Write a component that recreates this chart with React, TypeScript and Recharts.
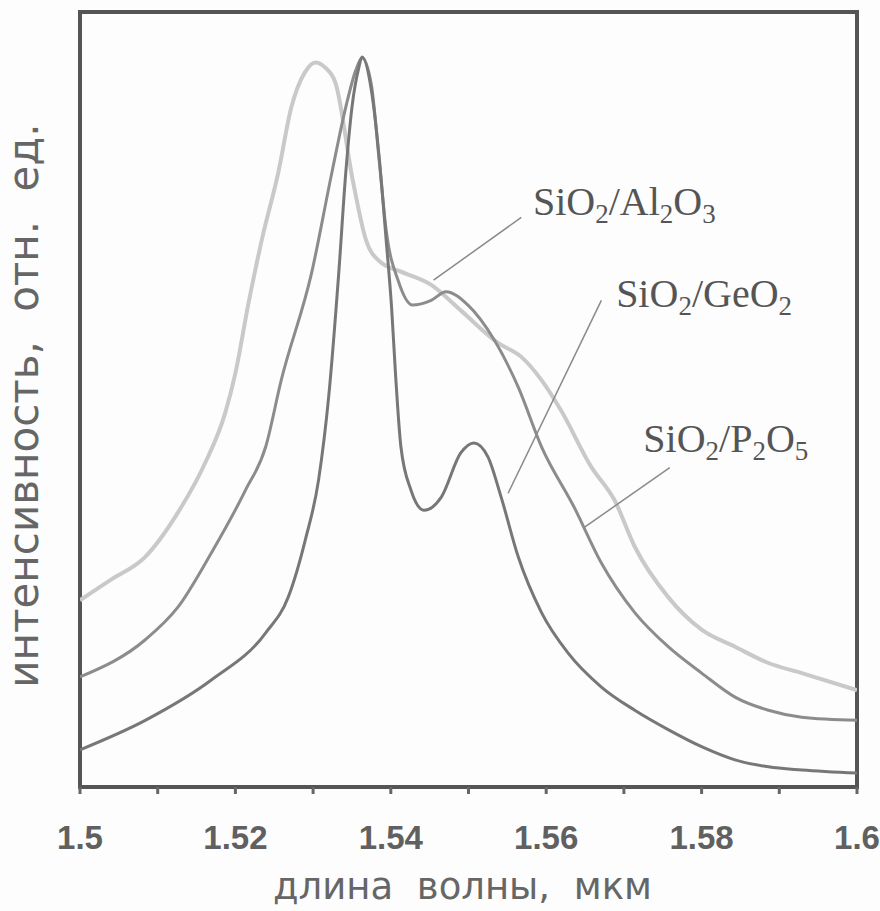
import React from 'react'
import {
  LineChart,
  Line,
  XAxis,
  YAxis,
  ReferenceArea,
  ReferenceLine,
  ReferenceDot,
  Label,
} from 'recharts'

// SiO2/Al2O3 — светлая, широкая
const al2o3Wl = [
  1.5, 1.5039, 1.5084, 1.5126, 1.5161, 1.5187, 1.52, 1.5217, 1.5234, 1.5255, 1.5272, 1.529,
  1.5303, 1.5316, 1.5329, 1.5351, 1.5368, 1.5387, 1.5413, 1.5452, 1.549, 1.5538, 1.5568,
  1.5594, 1.5619, 1.5658, 1.5688, 1.5714, 1.5757, 1.58, 1.5843, 1.5886, 1.5929, 1.6,
]
const al2o3Int = [
  0.241, 0.267, 0.297, 0.354, 0.418, 0.483, 0.534, 0.625, 0.706, 0.792, 0.877, 0.923,
  0.935, 0.928, 0.908, 0.783, 0.706, 0.677, 0.665, 0.648, 0.615, 0.573, 0.555,
  0.525, 0.486, 0.413, 0.37, 0.31, 0.245, 0.203, 0.181, 0.16, 0.147, 0.125,
]

// SiO2/P2O5 — средняя, с плечом
const p2o5Wl = [
  1.5, 1.5084, 1.5126, 1.5169, 1.5213, 1.5239, 1.5259, 1.5298, 1.5324, 1.5342, 1.5355, 1.5363,
  1.5375, 1.5385, 1.5394, 1.541, 1.5428, 1.5452, 1.5471, 1.5499, 1.5533, 1.5564, 1.5594,
  1.5636, 1.5671, 1.5714, 1.5757, 1.58, 1.5843, 1.5886, 1.5929, 1.6,
]
const p2o5Int = [
  0.142, 0.19, 0.232, 0.302, 0.383, 0.439, 0.525, 0.663, 0.792, 0.877, 0.925, 0.941,
  0.906, 0.809, 0.719, 0.652, 0.622, 0.628, 0.639, 0.622, 0.577, 0.516, 0.439,
  0.361, 0.289, 0.225, 0.181, 0.147, 0.116, 0.099, 0.09, 0.086,
]

// SiO2/GeO2 — узкая, два пика
const geo2Wl = [
  1.5, 1.5084, 1.5169, 1.5239, 1.5268, 1.529, 1.5307, 1.532, 1.5333, 1.5342, 1.535, 1.5359,
  1.5363, 1.5375, 1.5385, 1.5394, 1.5401, 1.5406, 1.5413, 1.5426, 1.5443, 1.5465, 1.549,
  1.5507, 1.5525, 1.5542, 1.5564, 1.5594, 1.5628, 1.5671, 1.5714, 1.5757, 1.58, 1.5843,
  1.5886, 1.5929, 1.6,
]
const geo2Int = [
  0.048, 0.086, 0.138, 0.199, 0.245, 0.319, 0.396, 0.503, 0.663, 0.792, 0.877, 0.929,
  0.942, 0.899, 0.813, 0.706, 0.619, 0.534, 0.439, 0.383, 0.357, 0.374, 0.431,
  0.444, 0.426, 0.374, 0.297, 0.225, 0.173, 0.129, 0.099, 0.074, 0.052, 0.035,
  0.026, 0.022, 0.018,
]

const xTicks = [1.5, 1.51, 1.52, 1.53, 1.54, 1.55, 1.56, 1.57, 1.58, 1.59, 1.6]
const xLabelValues = [1.5, 1.52, 1.54, 1.56, 1.58, 1.6]
const xLabelTexts = ['1.5', '1.52', '1.54', '1.56', '1.58', '1.6']

const toPoints = (wl: number[], val: number[]) => wl.map((w, i) => ({ wl: w, v: val[i] }))

const al2o3Data = toPoints(al2o3Wl, al2o3Int)
const p2o5Data = toPoints(p2o5Wl, p2o5Int)
const geo2Data = toPoints(geo2Wl, geo2Int)

type Part = [string, boolean]

const annotations: { parts: Part[]; at: [number, number]; leader: [number, number, number, number] }[] = [
  {
    parts: [['SiO', false], ['2', true], ['/Al', false], ['2', true], ['O', false], ['3', true]],
    at: [1.5583, 0.738],
    leader: [1.5568, 0.735, 1.5455, 0.654],
  },
  {
    parts: [['SiO', false], ['2', true], ['/GeO', false], ['2', true]],
    at: [1.569, 0.619],
    leader: [1.5671, 0.628, 1.5551, 0.379],
  },
  {
    parts: [['SiO', false], ['2', true], ['/P', false], ['2', true], ['O', false], ['5', true]],
    at: [1.5725, 0.432],
    leader: [1.5759, 0.412, 1.5649, 0.335],
  },
]

const FONT = '"DejaVu Sans", sans-serif'

function Formula({ viewBox, parts }: { viewBox?: any; parts: Part[] }) {
  const x = viewBox?.x ?? 0
  const y = viewBox?.y ?? 0
  let shift = 0
  return (
    <text x={x} y={y} fontFamily='"Liberation Serif", serif' fontSize={40} fill="#555">
      {parts.map(([t, sub], i) => {
        const dy = sub ? 8 - shift : -shift
        shift = sub ? 8 : 0
        return (
          <tspan key={i} dy={dy} fontSize={sub ? 27 : 40}>
            {t}
          </tspan>
        )
      })}
    </text>
  )
}

// подпись деления — по центру реальной координаты деления
function TickText({ viewBox, text }: { viewBox?: any; text: string }) {
  const x = viewBox?.x ?? 0
  const y = viewBox?.y ?? 0
  return (
    <text
      x={x}
      y={y + 62}
      textAnchor="middle"
      fontSize={33}
      fontWeight="bold"
      fill="#606060"
      fontFamily='"Liberation Sans", Arial, sans-serif'
    >
      {text}
    </text>
  )
}

export default function App() {
  return (
    <div style={{ position: 'absolute', left: 0, top: 0, background: '#fdfdfd' }}>
      <LineChart width={880} height={911} margin={{ top: 12, right: 23, left: 0, bottom: 0 }}>
        <XAxis
          dataKey="wl"
          type="number"
          domain={[1.5, 1.6]}
          ticks={xTicks}
          interval={0}
          height={124}
          axisLine={false}
          tickLine={{ stroke: '#666', strokeWidth: 3 }}
          tickSize={7}
          tick={() => <g />}
          allowDataOverflow
        >
          <Label
            content={(props: any) => {
              const vb = props.viewBox
              return (
                <text
                  x={vb.x + vb.width / 2 - 6}
                  y={vb.y + 112}
                  textAnchor="middle"
                  fontFamily={FONT}
                  fontSize={37}
                  fill="#666"
                  style={{ wordSpacing: 12 }}
                >
                  длина волны, мкм
                </text>
              )
            }}
          />
        </XAxis>
        <YAxis type="number" domain={[0, 1]} width={80} tick={false} axisLine={false} tickLine={false}>
          <Label
            content={(props: any) => {
              const vb = props.viewBox
              const cx = 38
              const cy = vb.y + vb.height / 2 + 6
              return (
                <text
                  x={cx}
                  y={cy}
                  transform={`rotate(-90 ${cx} ${cy})`}
                  textAnchor="middle"
                  fontFamily={FONT}
                  fontSize={42}
                  fill="#666"
                  style={{ wordSpacing: 16 }}
                >
                  интенсивность, отн. ед.
                </text>
              )
            }}
          />
        </YAxis>
        <Line
          data={al2o3Data}
          dataKey="v"
          type="monotone"
          stroke="#c9c9c9"
          strokeWidth={4}
          dot={false}
          isAnimationActive={false}
        />
        <Line
          data={p2o5Data}
          dataKey="v"
          type="monotone"
          stroke="#8c8c8c"
          strokeWidth={3}
          dot={false}
          isAnimationActive={false}
        />
        <Line
          data={geo2Data}
          dataKey="v"
          type="monotone"
          stroke="#777"
          strokeWidth={3}
          dot={false}
          isAnimationActive={false}
        />
        {annotations.map((a, i) => (
          <ReferenceLine
            key={`l${i}`}
            segment={[
              { x: a.leader[0], y: a.leader[1] },
              { x: a.leader[2], y: a.leader[3] },
            ]}
            stroke="#8a8a8a"
            strokeWidth={1.5}
          />
        ))}
        {annotations.map((a, i) => (
          <ReferenceDot
            key={`d${i}`}
            x={a.at[0]}
            y={a.at[1]}
            r={0}
            fill="none"
            stroke="none"
            label={(p: any) => <Formula viewBox={p.viewBox} parts={a.parts} />}
          />
        ))}
        {xLabelValues.map((v, i) => (
          <ReferenceDot
            key={`t${i}`}
            x={v}
            y={0}
            r={0}
            fill="none"
            stroke="none"
            ifOverflow="visible"
            label={(p: any) => <TickText viewBox={p.viewBox} text={xLabelTexts[i]} />}
          />
        ))}
        <ReferenceArea x1={1.5} x2={1.6} y1={0} y2={1} fill="none" stroke="#555" strokeWidth={4} />
      </LineChart>
    </div>
  )
}
